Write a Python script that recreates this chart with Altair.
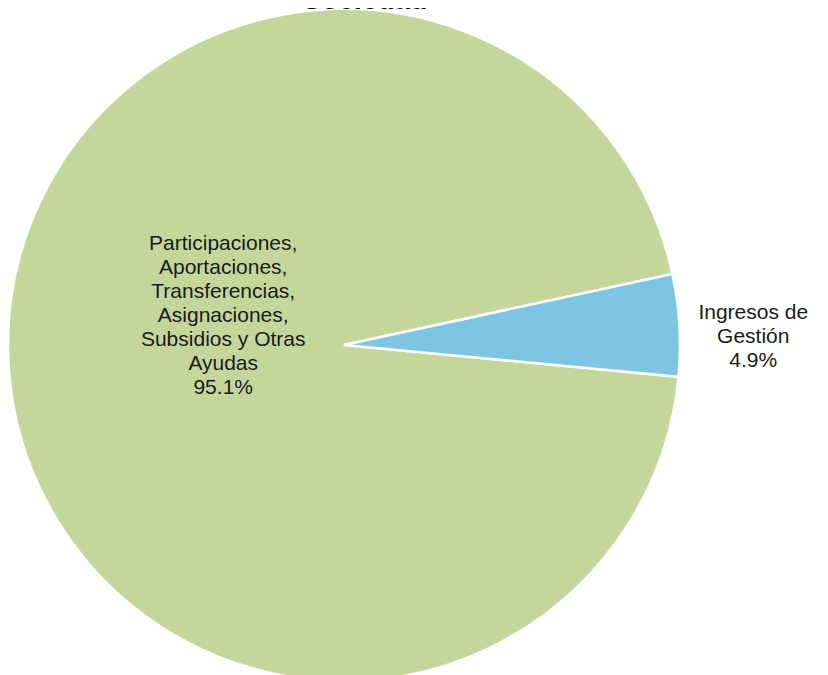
import math
import altair as alt
import pandas as pd

# Data
categorias = [
    "Participaciones,\nAportaciones,\nTransferencias,\nAsignaciones,\nSubsidios y Otras\nAyudas",
    "Ingresos de\nGestión",
]
porcentajes = [95.1, 4.9]
orden = [2, 1]
colores = ["#C4D79B", "#7CC6E4"]
titulo = ["Sociedad"]

df = pd.DataFrame({"categoria": categorias, "valor": porcentajes, "orden": orden})

inicio = math.radians(77.8)

base = alt.Chart(df).transform_calculate(
    etiqueta="datum.categoria + '\\n' + format(datum.valor, '.1f') + '%'"
).encode(
    theta=alt.Theta("valor:Q", stack=True,
                    scale=alt.Scale(range=[inicio, inicio + 2 * math.pi])),
    order=alt.Order("orden:Q"),
)

cx, cy = 336, 337

arcos = base.mark_arc(radius=336, stroke="white", strokeWidth=2.5).encode(
    color=alt.Color("categoria:N", scale=alt.Scale(domain=categorias, range=colores), legend=None),
    x=alt.value(cx), y=alt.value(cy),
)

txt_style = dict(font="Liberation Sans", fontSize=21, lineHeight=24, lineBreak="\n",
                 align="center", baseline="middle", color="#1a1a1a")

texto_verde = base.mark_text(radius=121, dy=-108, **txt_style).encode(
    text=alt.condition("datum.orden == 2", "etiqueta:N", alt.value("")),
    x=alt.value(cx), y=alt.value(cy),
)
texto_azul = base.mark_text(radius=410, dy=-8, **txt_style).encode(
    text=alt.condition("datum.orden == 1", "etiqueta:N", alt.value("")),
    x=alt.value(cx), y=alt.value(cy),
)

titulo_txt = alt.Chart(pd.DataFrame({"t": titulo})).mark_text(
    font="Liberation Sans", fontSize=28, fontWeight="bold", align="center",
    baseline="bottom", color="#000000"
).encode(text="t:N", x=alt.value(357), y=alt.value(7))

chart = alt.layer(arcos, texto_verde, texto_azul, titulo_txt).properties(
    width=812, height=667,
    autosize=alt.AutoSizeParams(type="none"),
    padding=0,
).configure_view(stroke=None)

chart.save("out.html", embed_options={"renderer": "svg", "actions": False})
